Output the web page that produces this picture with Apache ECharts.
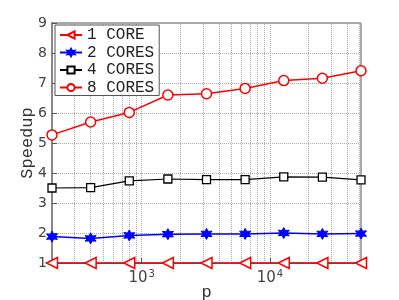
<!DOCTYPE html>
<html>
<head>
<meta charset="utf-8">
<script src="https://cdn.jsdelivr.net/npm/echarts@6/dist/echarts.min.js"></script>
<style>html,body{margin:0;padding:0;background:#fff;}#c{width:399px;height:300px;}</style>
</head>
<body>
<div id="c"></div>
<script>
const pValues = [200, 400, 800, 1600, 3200, 6400, 12800, 25600, 51200];
const core1 = [1, 1, 1, 1, 1, 1, 1, 1, 1];
const cores2 = [1.88, 1.82, 1.92, 1.96, 1.97, 1.97, 2.00, 1.97, 1.98];
const cores4 = [3.50, 3.51, 3.74, 3.80, 3.78, 3.78, 3.87, 3.86, 3.77];
const cores8 = [5.27, 5.70, 6.02, 6.60, 6.64, 6.82, 7.08, 7.16, 7.41];
const seriesNames = ['1 CORE', '2 CORES', '4 CORES', '8 CORES'];
const minorTicks = [300,400,500,600,700,800,900,2000,3000,4000,5000,6000,7000,8000,9000,20000,30000,40000,50000];
const yTicks = [1, 9, 1]; // min, max, interval

const pair = arr => pValues.map((p, i) => [p, arr[i]]);
const mono = 'Liberation Mono';
const sans = 'DejaVu Sans';

const triLeft = 'path://M0,5 L10,0 L10,10 Z';
const star6 = 'path://M5,0 L6.3,2.75 L9.33,2.5 L7.6,5 L9.33,7.5 L6.3,7.25 L5,10 L3.7,7.25 L0.67,7.5 L2.4,5 L0.67,2.5 L3.7,2.75 Z';

const chart = echarts.init(document.getElementById('c'), null, {renderer: 'canvas'});
chart.setOption({
  animation: false,
  backgroundColor: '#fff',
  grid: {left: 52, right: 38, top: 23, bottom: 37, show: true, borderColor: '#555', borderWidth: 1,
         containLabel: false, outerBoundsMode: 'none'},
  legend: {
    orient: 'vertical', left: 55, top: 25,
    backgroundColor: '#fff', borderColor: '#555', borderWidth: 1,
    padding: [2, 5, 0, 4], itemGap: 1.5, itemWidth: 22, itemHeight: 9,
    textStyle: {fontFamily: mono, fontSize: 16, color: '#222'},
    data: seriesNames
  },
  xAxis: {
    type: 'log', logBase: 10, min: pValues[0], max: pValues[pValues.length - 1],
    name: 'p', nameLocation: 'middle', nameGap: 21, nameMoveOverlap: false,
    nameTextStyle: {fontFamily: mono, fontSize: 17, color: '#333'},
    axisLine: {show: true, lineStyle: {color: '#555', width: 1}},
    axisTick: {show: true, inside: true, length: 5, lineStyle: {color: '#555'}},
    splitLine: {show: true, lineStyle: {type: 'dotted', color: '#aaa'}},
    axisLabel: {
      margin: 6, showMinLabel: false, showMaxLabel: false,
      fontFamily: sans, fontSize: 15, color: '#444',
      formatter: function (v) {
        const e = Math.log10(v);
        if (Math.abs(e - Math.round(e)) < 1e-6) return '{b|10}{s|' + Math.round(e) + '}';
        return '';
      },
      rich: {
        b: {fontFamily: sans, fontSize: 15, color: '#444', lineHeight: 18},
        s: {fontFamily: sans, fontSize: 10, color: '#444', verticalAlign: 'top', lineHeight: 18, padding: [0, 0, 10, 1]}
      }
    }
  },
  yAxis: {
    type: 'value', min: yTicks[0], max: yTicks[1], interval: yTicks[2],
    name: 'Speedup', nameLocation: 'middle', nameGap: 16, nameMoveOverlap: false,
    nameTextStyle: {fontFamily: mono, fontSize: 17, color: '#333'},
    axisLine: {show: true, lineStyle: {color: '#888', width: 2}},
    axisTick: {show: true, inside: true, length: 5, lineStyle: {color: '#555'}},
    splitLine: {show: true, lineStyle: {type: 'dotted', color: '#aaa'}},
    axisLabel: {fontFamily: sans, fontSize: 14, color: '#444', margin: 5}
  },
  series: [
    {
      name: seriesNames[0], type: 'line', data: pair(core1),
      symbol: triLeft, symbolSize: 11, z: 5,
      lineStyle: {color: '#ff0000', width: 1.5},
      itemStyle: {color: '#fff', borderColor: '#ff0000', borderWidth: 1.5},
      markLine: {
        silent: true, symbol: 'none', label: {show: false}, z: 1,
        lineStyle: {type: 'dotted', color: '#aaa', width: 1},
        data: minorTicks.map(v => ({xAxis: v}))
      }
    },
    {
      name: seriesNames[1], type: 'line', data: pair(cores2),
      symbol: star6, symbolSize: 11,
      lineStyle: {color: '#0000ff', width: 1.5},
      itemStyle: {color: '#0000ff', borderColor: '#0000ff', borderWidth: 1}
    },
    {
      name: seriesNames[2], type: 'line', data: pair(cores4),
      symbol: 'rect', symbolSize: 8,
      lineStyle: {color: '#000', width: 1.2},
      itemStyle: {color: '#fff', borderColor: '#000', borderWidth: 1.3}
    },
    {
      name: seriesNames[3], type: 'line', data: pair(cores8),
      symbol: 'circle', symbolSize: 10,
      lineStyle: {color: '#ff0000', width: 1.5},
      itemStyle: {color: '#fff', borderColor: '#ff0000', borderWidth: 1.5}
    }
  ]
});
</script>
</body>
</html>
